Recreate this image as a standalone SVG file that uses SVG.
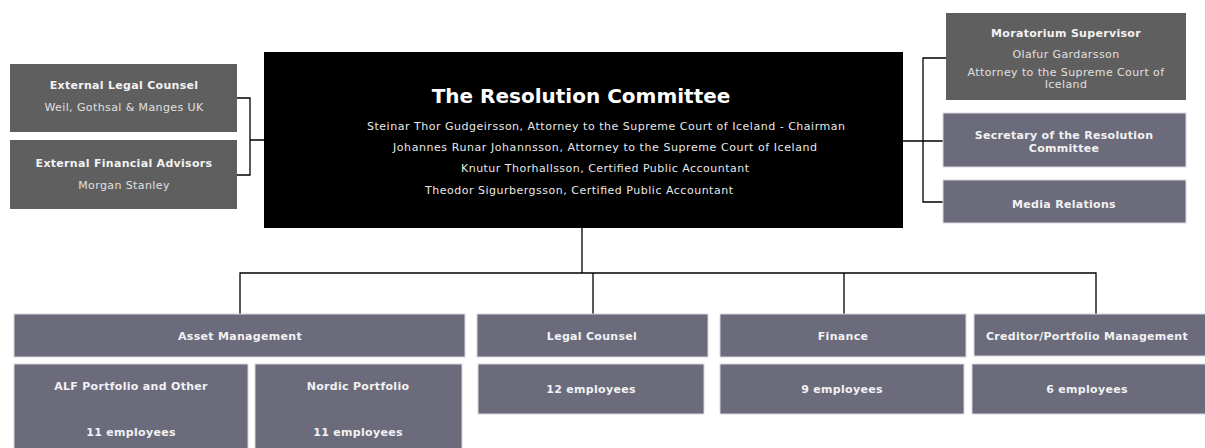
<svg xmlns="http://www.w3.org/2000/svg" width="1205" height="448" viewBox="0 0 1205 448">
<style>
.g{fill:#5f5f5f}
.b{fill:#6b6b7c;stroke:#d8d8de;stroke-width:1}
.k{fill:#000}
text{font-family:"DejaVu Sans",Verdana,sans-serif;text-anchor:middle}
.h{font-size:11px;font-weight:bold;fill:#f2f2f2;letter-spacing:0.3px}
.r{font-size:11px;fill:#e0e0e0;letter-spacing:0.4px}
.t{font-size:20px;font-weight:bold;fill:#fff}
.m{font-size:11px;fill:#e8e8e8}
.c{fill:none;stroke:#000;stroke-width:1.3}
</style>
<rect width="1205" height="448" fill="#fff"/>
<g id="connectors">
<path class="c" d="M237,98 H250 V175 H237 M250,140 H264"/>
<path class="c" d="M903,141 H943 M946,58 H923 V202 H943"/>
<path class="c" d="M582,228 V273 M240,315 V273 H1096 V315 M593,273 V315 M844,273 V315"/>
</g>
<g id="ext-legal"><rect class="g" x="10" y="64" width="227" height="68"/>
<text class="h" x="124" y="89">External Legal Counsel</text>
<text class="r" x="124" y="111">Weil, Gothsal &amp; Manges UK</text></g>
<g id="ext-fin"><rect class="g" x="10" y="140" width="227" height="69"/>
<text class="h" x="124" y="167">External Financial Advisors</text>
<text class="r" x="124" y="189">Morgan Stanley</text></g>
<g id="committee"><rect class="k" x="264" y="52" width="639" height="176"/>
<text class="t" x="581" y="103">The Resolution Committee</text>
<text class="m" x="606" y="130" textLength="478" lengthAdjust="spacing">Steinar Thor Gudgeirsson, Attorney to the Supreme Court of Iceland - Chairman</text>
<text class="m" x="605" y="151" textLength="424" lengthAdjust="spacing">Johannes Runar Johannsson, Attorney to the Supreme Court of Iceland</text>
<text class="m" x="605" y="172" textLength="288" lengthAdjust="spacing">Knutur Thorhallsson, Certified Public Accountant</text>
<text class="m" x="579" y="194" textLength="308" lengthAdjust="spacing">Theodor Sigurbergsson, Certified Public Accountant</text></g>
<g id="moratorium"><rect class="g" x="946" y="13" width="240" height="87"/>
<text class="h" x="1066" y="37">Moratorium Supervisor</text>
<text class="r" x="1066" y="58">Olafur Gardarsson</text>
<text class="r" x="1066" y="76">Attorney to the Supreme Court of</text>
<text class="r" x="1066" y="87.5">Iceland</text></g>
<g id="secretary"><rect class="b" x="943" y="113" width="243" height="54"/>
<text class="h" x="1064" y="139">Secretary of the Resolution</text>
<text class="h" x="1064" y="152">Committee</text></g>
<g id="media"><rect class="b" x="943" y="180" width="243" height="43"/>
<text class="h" x="1064" y="208">Media Relations</text></g>
<g id="asset"><rect class="b" x="14" y="314" width="451" height="43"/>
<text class="h" x="240" y="340">Asset Management</text></g>
<g id="alf"><rect class="b" x="14" y="364" width="234" height="90"/>
<text class="h" x="131" y="390">ALF Portfolio and Other</text>
<text class="h" x="131" y="436">11 employees</text></g>
<g id="nordic"><rect class="b" x="255" y="364" width="207" height="90"/>
<text class="h" x="358" y="390">Nordic Portfolio</text>
<text class="h" x="358" y="436">11 employees</text></g>
<g id="legal"><rect class="b" x="477" y="314" width="231" height="43"/>
<text class="h" x="592" y="340">Legal Counsel</text></g>
<g id="legal-emp"><rect class="b" x="478" y="364" width="226" height="50"/>
<text class="h" x="591" y="393">12 employees</text></g>
<g id="finance"><rect class="b" x="720" y="314" width="246" height="43"/>
<text class="h" x="843" y="340">Finance</text></g>
<g id="finance-emp"><rect class="b" x="720" y="364" width="244" height="50"/>
<text class="h" x="842" y="393">9 employees</text></g>
<g id="creditor"><rect class="b" x="974" y="314" width="232" height="42"/>
<text class="h" x="1087" y="340">Creditor/Portfolio Management</text></g>
<g id="creditor-emp"><rect class="b" x="972" y="364" width="234" height="50"/>
<text class="h" x="1087" y="393">6 employees</text></g>
</svg>
